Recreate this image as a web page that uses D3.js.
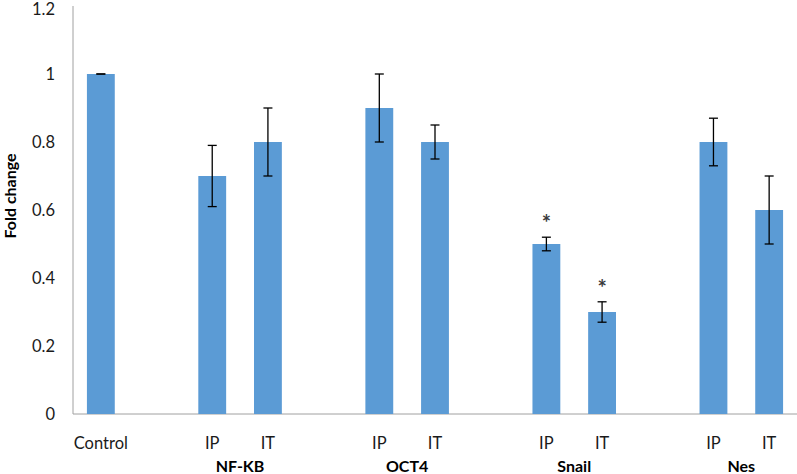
<!DOCTYPE html>
<html><head><meta charset="utf-8">
<script src="https://cdn.jsdelivr.net/npm/d3@7"></script>
<style>body{margin:0;background:#fff}svg{display:block}text{font-family:Lato,"Open Sans",sans-serif}</style>
</head><body><svg id="c" width="797" height="474"></svg>
<script>
// Data
const slots = ["Control","gap1","NF-KB|IP","NF-KB|IT","gap2","OCT4|IP","OCT4|IT","gap3","Snail|IP","Snail|IT","gap4","Nes|IP","Nes|IT"];
const categories = ["Control","NF-KB|IP","NF-KB|IT","OCT4|IP","OCT4|IT","Snail|IP","Snail|IT","Nes|IP","Nes|IT"];
const values = [1.0, 0.7, 0.8, 0.9, 0.8, 0.5, 0.3, 0.8, 0.6];
const errors = [0.0, 0.09, 0.1, 0.1, 0.05, 0.02, 0.03, 0.07, 0.1];
const significant = [false,false,false,false,false,true,true,false,false];
const groups = ["NF-KB","OCT4","Snail","Nes"];
const yTicks = [0,0.2,0.4,0.6,0.8,1,1.2];

const svg = d3.select("#c");
const x = d3.scaleBand().domain(slots).range([73,797]).paddingInner(0.5).paddingOuter(0.25);
const y = d3.scaleLinear().domain([0,1.2]).range([414,6]);

// axes lines
svg.append("line").attr("x1",73).attr("x2",73).attr("y1",y(1.2)).attr("y2",y(0)).attr("stroke","#a0a0a0").attr("stroke-width",1);
svg.append("line").attr("x1",73).attr("x2",797).attr("y1",y(0)).attr("y2",y(0)).attr("stroke","#a0a0a0").attr("stroke-width",1);

// y tick labels
svg.selectAll(".yt").data(yTicks).enter().append("text")
  .attr("x",55).attr("y",d=>Math.max(y(d),9)).attr("dy","0.35em").attr("text-anchor","end")
  .attr("font-size",16.5).attr("fill","#1a1a1a").text(d=>d3.format("")(d));

// y title
svg.append("text").attr("transform","translate(16,196) rotate(-90)").attr("text-anchor","middle")
  .attr("font-size",16).attr("font-weight","bold").attr("fill","#000").text("Fold change");

const data = categories.map((c,i)=>({c, v:values[i], e:errors[i], s:significant[i]}));
const cx = d=>x(d.c)+x.bandwidth()/2;

svg.selectAll(".bar").data(data).enter().append("rect")
  .attr("x",d=>x(d.c)).attr("width",x.bandwidth())
  .attr("y",d=>y(d.v)).attr("height",d=>y(0)-y(d.v)).attr("fill","#5b9bd5");

const eb = svg.selectAll(".eb").data(data).enter().append("g").attr("stroke","#000").attr("stroke-width",1.3);
eb.append("line").attr("x1",cx).attr("x2",cx).attr("y1",d=>y(d.v+d.e)).attr("y2",d=>y(d.v-d.e));
eb.append("line").attr("x1",d=>cx(d)-4.5).attr("x2",d=>cx(d)+4.5).attr("y1",d=>y(d.v+d.e)).attr("y2",d=>y(d.v+d.e));
eb.append("line").attr("x1",d=>cx(d)-4.5).attr("x2",d=>cx(d)+4.5).attr("y1",d=>y(d.v-d.e)).attr("y2",d=>y(d.v-d.e));

svg.selectAll(".star").data(data.filter(d=>d.s)).enter().append("text")
  .attr("x",cx).attr("y",d=>y(d.v+d.e)-6).attr("text-anchor","middle")
  .attr("font-size",22).attr("font-weight","bold").attr("fill","#3a3a3a").text("*");

// x labels
svg.selectAll(".xl").data(categories).enter().append("text")
  .attr("x",d=>x(d)+x.bandwidth()/2).attr("y",443).attr("dy","0.35em").attr("text-anchor","middle")
  .attr("font-size",16.5).attr("fill","#1a1a1a").text(d=>d.includes("|")?d.split("|")[1]:d);

svg.selectAll(".gl").data(groups).enter().append("text")
  .attr("x",g=>(x(g+"|IP")+x(g+"|IT"))/2+x.bandwidth()/2).attr("y",466).attr("dy","0.35em").attr("text-anchor","middle")
  .attr("font-size",16).attr("font-weight","bold").attr("fill","#000").text(g=>g);
</script></body></html>
